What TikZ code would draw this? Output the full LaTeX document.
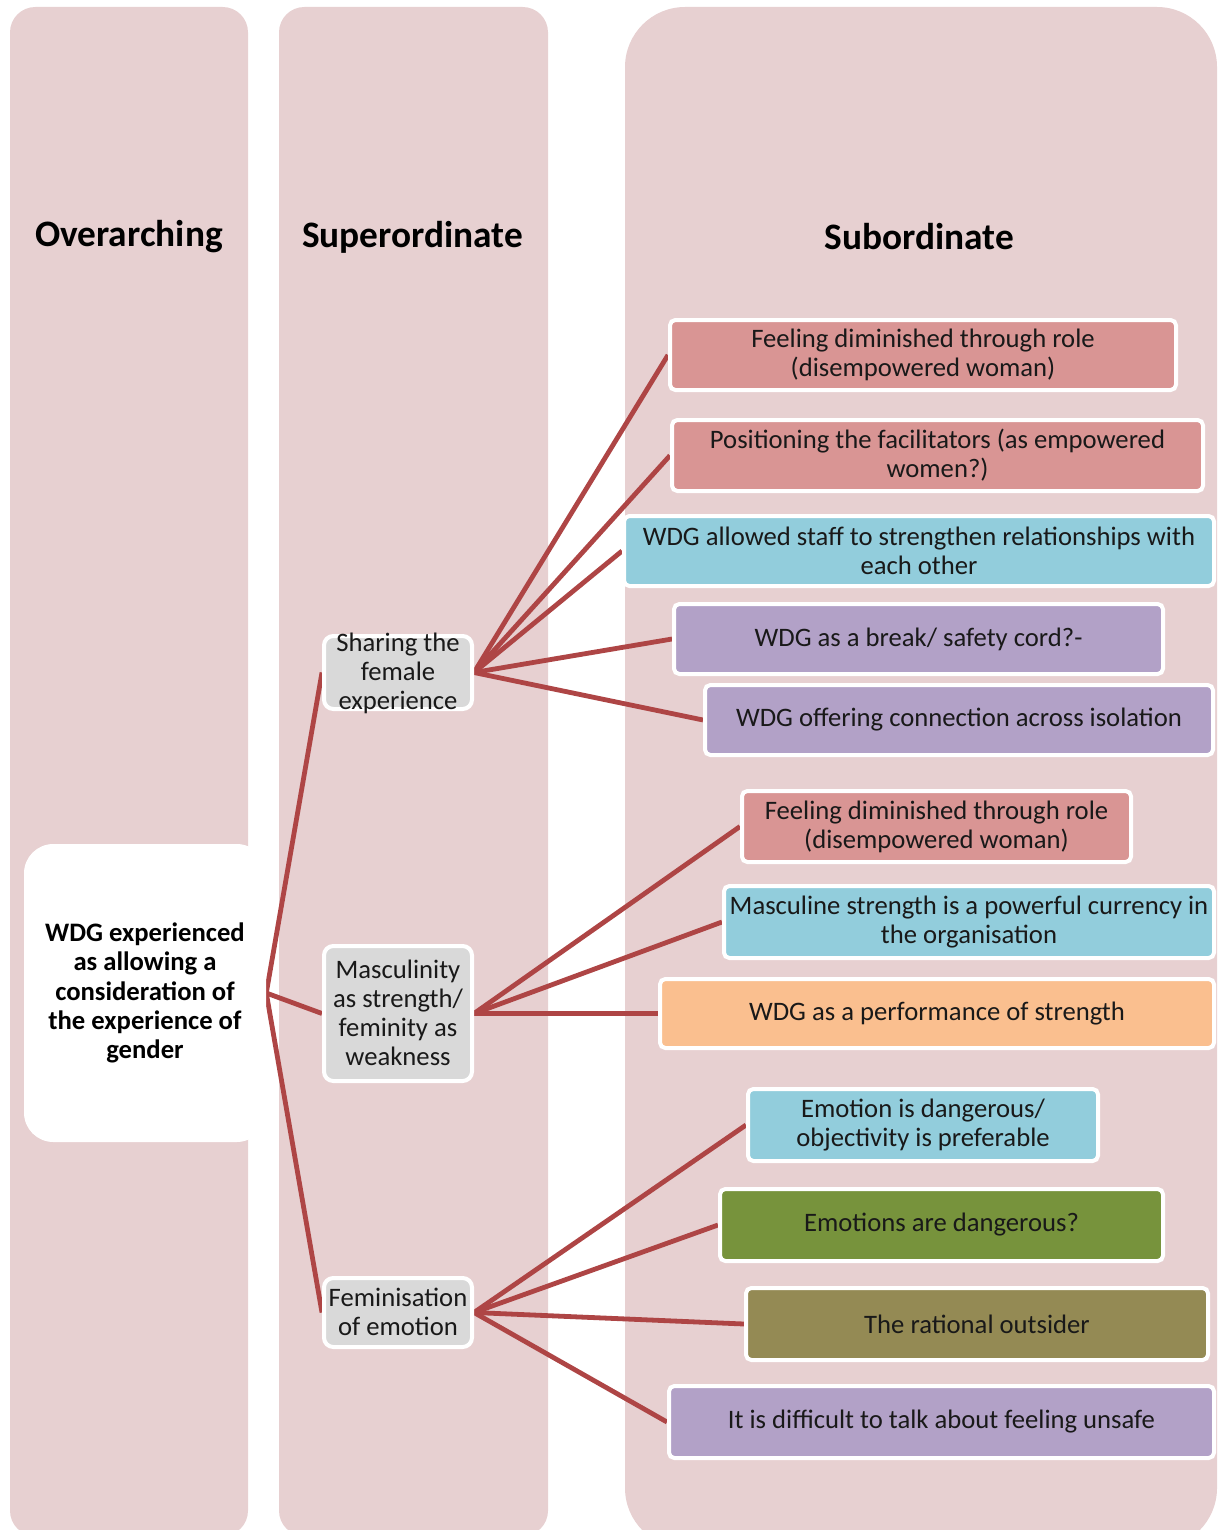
\documentclass[tikz,border=0pt]{standalone}
\usepackage{fontspec}
\setmainfont{Carlito}
\definecolor{colbg}{HTML}{E7D0D1}
\definecolor{cpink}{HTML}{D99594}
\definecolor{cblue}{HTML}{92CDDC}
\definecolor{cpurple}{HTML}{B2A1C7}
\definecolor{corange}{HTML}{FABF8F}
\definecolor{cgreen}{HTML}{77933C}
\definecolor{colive}{HTML}{948A54}
\definecolor{cgray}{HTML}{D9D9D9}
\definecolor{clink}{HTML}{AE4545}
\pgfdeclarelayer{bg}
\pgfdeclarelayer{links}
\pgfsetlayers{bg,links,main}
\begin{document}
\begin{tikzpicture}[x=0.75pt,y=-0.75pt,
  column/.style={fill=colbg},
  head/.style={font=\fontsize{28}{32}\selectfont\bfseries, text=black, inner sep=0pt},
  rootbox/.style={fill=white, rounded corners=22pt, inner sep=0pt, align=center,
    font=\fontsize{20}{22}\selectfont\bfseries, text=black},
  midbox/.style={fill=cgray, draw=white, line width=3pt, rounded corners=7pt, inner sep=0pt},
  midtxt/.style={inner sep=0pt, align=center, font=\fontsize{20}{21.75}\selectfont, text=black!90},
  subbox/.style={draw=white, line width=3pt, rounded corners=4pt, inner sep=0pt, align=center,
    font=\fontsize{20}{21.75}\selectfont, text=black!90},
  link/.style={draw=clink, line width=3.6pt}]

\useasboundingbox (0,0) rectangle (1223,1530);
\clip (0,0) rectangle (1223,1530);

% three column backgrounds
\begin{pgfonlayer}{bg}
  \fill[column, rounded corners=19pt] (10,7) rectangle (248,1536);
  \fill[column, rounded corners=19pt] (279,7) rectangle (548,1536);
  \fill[column, rounded corners=45pt] (625,7) rectangle (1217,1548);
\end{pgfonlayer}

% column headings
\node[head] (hover) at (129,237) {Overarching};
\node[head] (hsuper) at (412.5,237) {Superordinate};
\node[head] (hsub) at (919.5,237) {Subordinate};

% overarching theme
\node[rootbox, minimum width=242*0.75pt, minimum height=298*0.75pt] (root) at (145,993)
  {WDG experienced\\as allowing a\\consideration of\\the experience of\\gender};

% superordinate themes
\node[midbox, minimum width=148*0.75pt, minimum height=73*0.75pt] (sh) at (398,672.5) {};
\node[midtxt] (sht) at (398,673) {Sharing the\\female\\experience};
\node[midbox, minimum width=148*0.75pt, minimum height=135*0.75pt] (ma) at (398,1013.5) {};
\node[midtxt] (mat) at (398,1013) {Masculinity\\as strength/\\feminity as\\weakness};
\node[midbox, minimum width=148*0.75pt, minimum height=69*0.75pt] (fe) at (398,1312.5) {};
\node[midtxt] (fet) at (398,1311.5) {Feminisation\\of emotion};

% subordinate themes
\node[subbox, fill=cpink, minimum width=506*0.75pt, minimum height=70*0.75pt] (s1) at (923,355)
  {Feeling diminished through role\\(disempowered woman)};
\node[subbox, fill=cpink, minimum width=531*0.75pt, minimum height=71*0.75pt] (s2) at (937.5,455.5)
  {Positioning the facilitators (as empowered\\women?)};
\node[subbox, fill=cblue, minimum width=590*0.75pt, minimum height=70*0.75pt] (s3) at (919,551)
  {WDG allowed staff to strengthen relationships with\\each other};
\node[subbox, fill=cpurple, minimum width=489*0.75pt, minimum height=70*0.75pt] (s4) at (918.5,639)
  {WDG as a break/ safety cord?-};
\node[subbox, fill=cpurple, minimum width=508*0.75pt, minimum height=70*0.75pt] (s5) at (959,720)
  {WDG offering connection across isolation};

\node[subbox, fill=cpink, minimum width=389*0.75pt, minimum height=71*0.75pt] (s6) at (936.5,826.5)
  {Feeling diminished through role\\(disempowered woman)};
\node[subbox, fill=cblue, minimum width=490*0.75pt, minimum height=72*0.75pt] (s7) at (969,922)
  {Masculine strength is a powerful currency in\\the organisation};
\node[subbox, fill=corange, minimum width=554*0.75pt, minimum height=69*0.75pt] (s8) at (937,1013.5)
  {WDG as a performance of strength};

\node[subbox, fill=cblue, minimum width=350*0.75pt, minimum height=72*0.75pt] (s9) at (923,1125)
  {Emotion is dangerous/\\objectivity is preferable};
\node[subbox, fill=cgreen, minimum width=443*0.75pt, minimum height=72*0.75pt] (s10) at (941.5,1225)
  {Emotions are dangerous?};
\node[subbox, fill=colive, minimum width=462*0.75pt, minimum height=72*0.75pt] (s11) at (977,1324)
  {The rational outsider};
\node[subbox, fill=cpurple, minimum width=545*0.75pt, minimum height=72*0.75pt] (s12) at (941.5,1422)
  {It is difficult to talk about feeling unsafe};

% connectors
\begin{pgfonlayer}{links}
  \draw[link] (root.east) -- (sh.west);
  \draw[link] (root.east) -- (ma.west);
  \draw[link] (root.east) -- (fe.west);
  \foreach \t in {s1,s2,s3,s4,s5} \draw[link] (sh.east) -- (\t.west);
  \foreach \t in {s6,s7,s8} \draw[link] (ma.east) -- (\t.west);
  \foreach \t in {s9,s10,s11,s12} \draw[link] (fe.east) -- (\t.west);
\end{pgfonlayer}
\end{tikzpicture}
\end{document}
